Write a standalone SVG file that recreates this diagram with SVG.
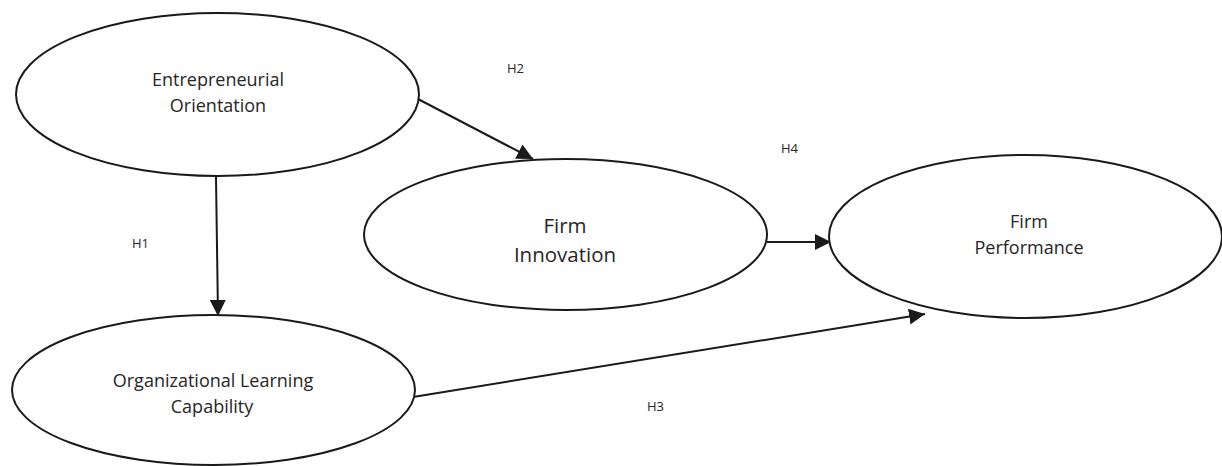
<svg xmlns="http://www.w3.org/2000/svg" width="1222" height="466" viewBox="0 0 1222 466">
  <style>
    .node { fill: #ffffff; stroke: #1a1a1a; stroke-width: 2; }
    .label { font-family: "Open Sans", "Liberation Sans", sans-serif; font-size: 18px; fill: #262626; text-anchor: middle; }
    .big { font-size: 20.5px; }
    .hyp { font-family: "Open Sans", "Liberation Sans", sans-serif; font-size: 13px; fill: #262626; }
    .edge { fill: none; stroke: #1a1a1a; stroke-width: 2; marker-end: url(#arrow); }
  </style>
  <defs>
    <marker id="arrow" markerUnits="userSpaceOnUse" markerWidth="16" markerHeight="16" refX="16" refY="8" orient="auto">
      <path d="M0,0 L16,8 L0,16 Z" fill="#1a1a1a"/>
    </marker>
  </defs>
  <rect width="1222" height="466" fill="#ffffff"/>

  <g id="connectors">
    <path class="edge" d="M216,177 L218,316"/>
    <path class="edge" d="M418,99 L533,159"/>
    <path class="edge" d="M767,242 L831,242"/>
    <path class="edge" d="M413,397 L925,314"/>
  </g>

  <g id="entrepreneurial-orientation">
    <ellipse class="node" cx="217.5" cy="94.5" rx="201.5" ry="81.5"/>
    <text class="label" x="218" y="86">Entrepreneurial</text>
    <text class="label" x="218" y="112">Orientation</text>
  </g>

  <g id="firm-innovation">
    <ellipse class="node" cx="565.5" cy="234.5" rx="201.5" ry="75.5"/>
    <text class="label big" x="565" y="233">Firm</text>
    <text class="label big" x="565" y="262">Innovation</text>
  </g>

  <g id="firm-performance">
    <ellipse class="node" cx="1025.5" cy="236.5" rx="196.5" ry="81.5"/>
    <text class="label" x="1029" y="228">Firm</text>
    <text class="label" x="1029" y="254">Performance</text>
  </g>

  <g id="organizational-learning-capability">
    <ellipse class="node" cx="213.5" cy="390" rx="201.5" ry="75"/>
    <text class="label" x="213" y="387">Organizational Learning</text>
    <text class="label" x="212" y="413">Capability</text>
  </g>

  <g id="hypotheses">
    <text class="hyp" x="132" y="248">H1</text>
    <text class="hyp" x="507" y="73">H2</text>
    <text class="hyp" x="647" y="411">H3</text>
    <text class="hyp" x="781" y="153">H4</text>
  </g>
</svg>
